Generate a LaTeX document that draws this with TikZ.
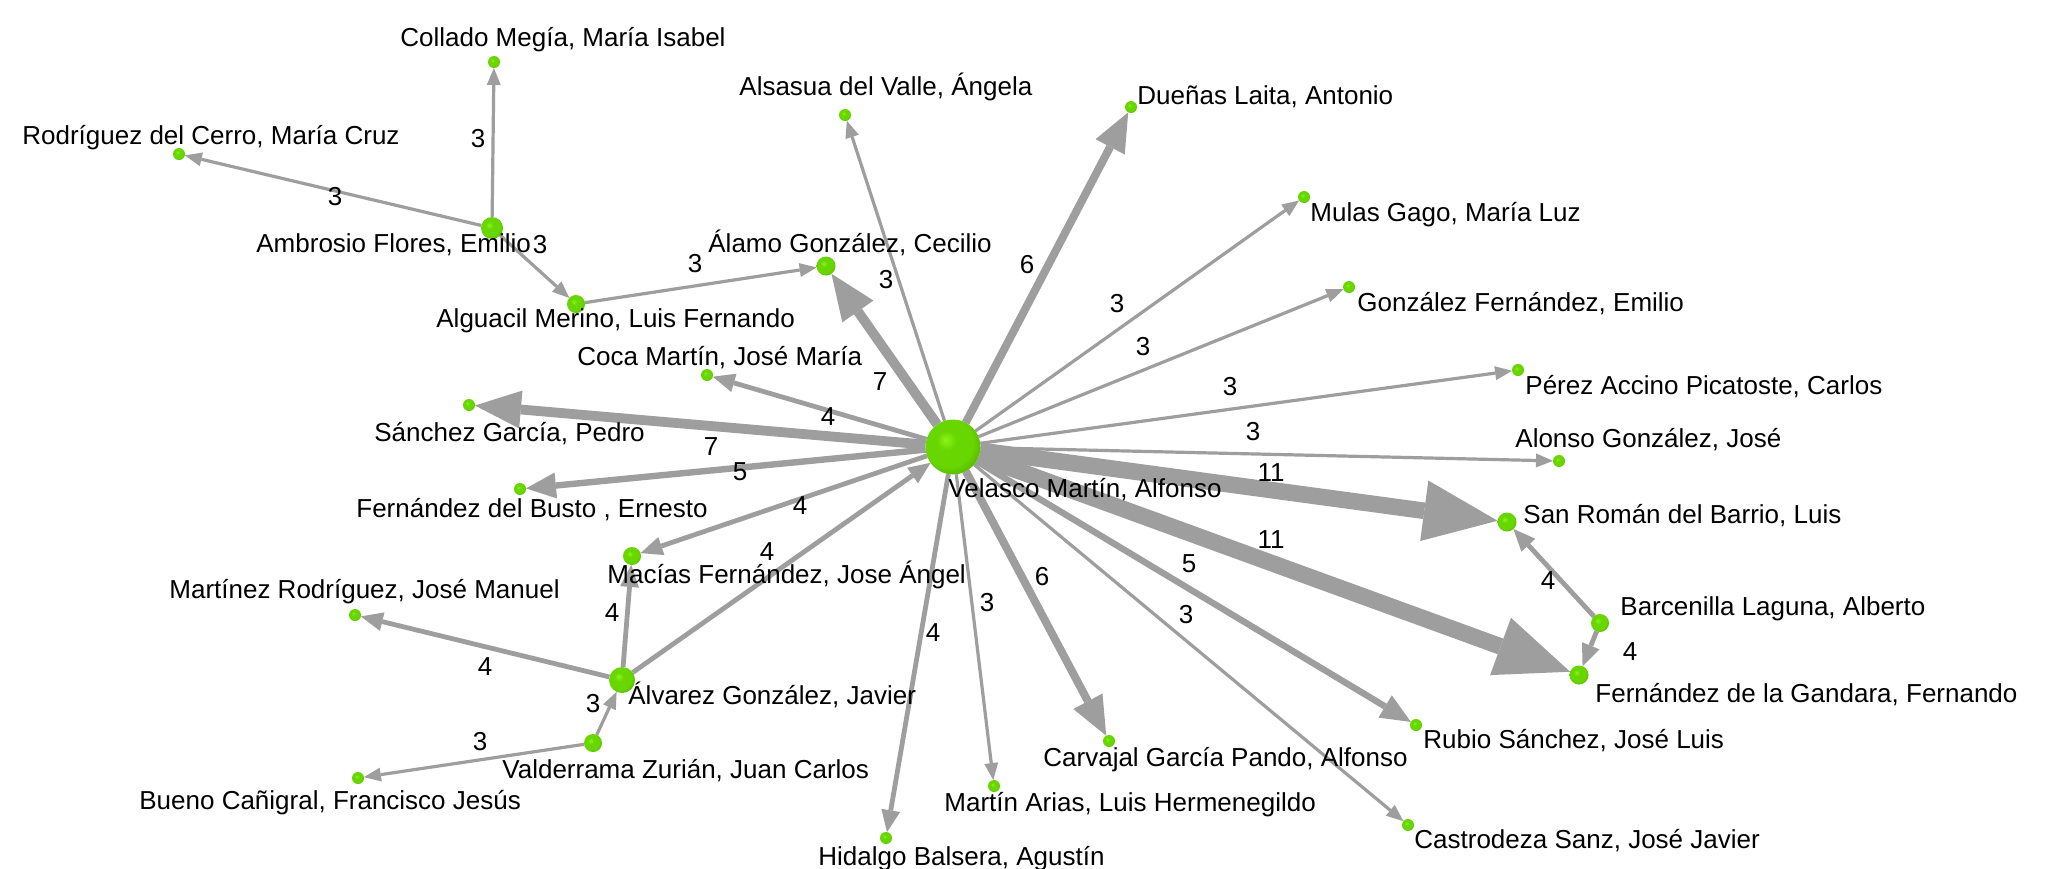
\documentclass[tikz,border=0pt]{standalone}
\usepackage{fontspec}
\setmainfont{Liberation Sans}
\usetikzlibrary{arrows.meta}
\pgfdeclarelayer{back}
\pgfdeclarelayer{bg}
\pgfsetlayers{back,bg,main}
\definecolor{edgegray}{RGB}{158,158,158}
\definecolor{gHi}{RGB}{138,246,24}
\definecolor{gMid}{RGB}{104,214,0}
\definecolor{gEdge}{RGB}{80,172,0}
\pgfdeclareradialshading{greenball}{\pgfpoint{-7bp}{7bp}}{color(0bp)=(gHi); color(9bp)=(gMid); color(22bp)=(gMid); color(33bp)=(gEdge); color(50bp)=(gEdge)}
\begin{document}
\begin{tikzpicture}[x=0.5pt,y=-0.5pt,
  vnode/.style={circle, inner sep=0pt, outer sep=0pt, shade, shading=greenball, minimum size=#1},
  lbl/.style={anchor=base west, inner sep=0pt, font=\fontsize{13}{15}\selectfont},
  wl/.style={inner sep=0pt, font=\fontsize{13}{15}\selectfont},
  ed/.style={draw=edgegray, line cap=butt},
  wt3/.style={ed, line width=1.6pt, -{Triangle[length=8.5pt,width=7pt,line width=0pt]}},
  wt4/.style={ed, line width=2.4pt, -{Triangle[length=11pt,width=9.5pt,line width=0pt]}},
  wt5/.style={ed, line width=3.2pt, -{Triangle[length=15pt,width=13pt,line width=0pt]}},
  wt6/.style={ed, line width=4pt, -{Triangle[length=19.5pt,width=16.5pt,line width=0pt]}},
  wt7/.style={ed, line width=4.9pt, -{Triangle[length=23pt,width=19pt,line width=0pt]}},
  wt11/.style={ed, line width=8.3pt, -{Triangle[length=37pt,width=30.5pt,line width=0pt]}}
]
\begin{pgfonlayer}{back}
\fill[white] (0,0) rectangle (2051,868);
\end{pgfonlayer}
\useasboundingbox (0,0) rectangle (2051,868);

% nodes
\node[vnode=27.5pt] (vel) at (953,447) {};
\node[vnode=11pt] (amb) at (492,228) {};
\node[vnode=9pt] (alg) at (576,304) {};
\node[vnode=9.5pt] (ala) at (826,266) {};
\node[vnode=6pt] (col) at (494,62) {};
\node[vnode=6pt] (rod) at (179,154) {};
\node[vnode=6pt] (als) at (845,115) {};
\node[vnode=6pt] (due) at (1131,107) {};
\node[vnode=6pt] (mul) at (1304,197) {};
\node[vnode=6pt] (gon) at (1349,287) {};
\node[vnode=6pt] (per) at (1518,370) {};
\node[vnode=6pt] (alo) at (1559,461) {};
\node[vnode=9.5pt] (san) at (1507,522) {};
\node[vnode=9pt] (bar) at (1600,623) {};
\node[vnode=9.5pt] (fdg) at (1579,675) {};
\node[vnode=6pt] (rub) at (1416,725) {};
\node[vnode=6pt] (cas) at (1408,825) {};
\node[vnode=6pt] (car) at (1109,741) {};
\node[vnode=6pt] (mar) at (994,786) {};
\node[vnode=6pt] (hid) at (886,838) {};
\node[vnode=9pt] (val) at (593,743) {};
\node[vnode=6pt] (bue) at (358,778) {};
\node[vnode=13pt] (alv) at (622,680) {};
\node[vnode=6pt] (mrt) at (355,615) {};
\node[vnode=9pt] (mac) at (632,556) {};
\node[vnode=6pt] (fdb) at (520,489) {};
\node[vnode=6pt] (sgp) at (469,405) {};
\node[vnode=6pt] (coc) at (707,375) {};

% edges
\begin{pgfonlayer}{bg}
\draw[wt3] (amb) -- (col);
\draw[wt3] (amb) -- (rod);
\draw[wt3] (amb) -- (alg);
\draw[wt3] (alg) -- (ala);
\draw[wt7] (vel) -- (ala);
\draw[wt3] (vel) -- (als);
\draw[wt6] (vel) -- (due);
\draw[wt3] (vel) -- (mul);
\draw[wt3] (vel) -- (gon);
\draw[wt3] (vel) -- (per);
\draw[wt3] (vel) -- (alo);
\draw[wt11] (vel) -- (san);
\draw[wt11] (vel) -- (fdg);
\draw[wt5] (vel) -- (rub);
\draw[wt3] (vel) -- (cas);
\draw[wt6] (vel) -- (car);
\draw[wt3] (vel) -- (mar);
\draw[wt4] (vel) -- (hid);
\draw[wt4] (vel) -- (mac);
\draw[wt5] (vel) -- (fdb);
\draw[wt7] (vel) -- (sgp);
\draw[wt4] (vel) -- (coc);
\draw[wt4] (alv) -- (vel);
\draw[wt4] (alv) -- (mac);
\draw[wt4] (alv) -- (mrt);
\draw[wt3] (val) -- (alv);
\draw[wt3] (val) -- (bue);
\draw[wt4] (bar) -- (san);
\draw[wt4] (bar) -- (fdg);
\end{pgfonlayer}

% edge weights
\node[wl] (w1) at (478,139) {3};
\node[wl] (w2) at (335,197) {3};
\node[wl] (w3) at (540,245) {3};
\node[wl] (w4) at (695,264) {3};
\node[wl] (w5) at (886,280) {3};
\node[wl] (w6) at (880,382) {7};
\node[wl] (w7) at (828,417) {4};
\node[wl] (w8) at (711,447) {7};
\node[wl] (w9) at (740,472) {5};
\node[wl] (w10) at (800,506) {4};
\node[wl] (w11) at (767,552) {4};
\node[wl] (w12) at (612,613) {4};
\node[wl] (w13) at (485,667) {4};
\node[wl] (w14) at (593,704) {3};
\node[wl] (w15) at (480,742) {3};
\node[wl] (w16) at (933,633) {4};
\node[wl] (w17) at (987,603) {3};
\node[wl] (w18) at (1042,577) {6};
\node[wl] (w19) at (1186,615) {3};
\node[wl] (w20) at (1189,564) {5};
\node[wl] (w21) at (1271,540) {11};
\node[wl] (w22) at (1271,473) {11};
\node[wl] (w23) at (1253,432) {3};
\node[wl] (w24) at (1230,387) {3};
\node[wl] (w25) at (1143,347) {3};
\node[wl] (w26) at (1117,304) {3};
\node[wl] (w27) at (1027,265) {6};
\node[wl] (w28) at (1548,581) {4};
\node[wl] (w29) at (1630,652) {4};

% names
\node[lbl] (tcol) at (400,46) {Collado Megía, María Isabel};
\node[lbl] (trod) at (22,144) {Rodríguez del Cerro, María Cruz};
\node[lbl] (tamb) at (256,252) {Ambrosio Flores, Emilio};
\node[lbl] (talg) at (436,327) {Alguacil Merino, Luis Fernando};
\node[lbl] (tala) at (708,252) {Álamo González, Cecilio};
\node[lbl] (tals) at (739,95) {Alsasua del Valle, Ángela};
\node[lbl] (tdue) at (1137,104) {Dueñas Laita, Antonio};
\node[lbl] (tmul) at (1310,221) {Mulas Gago, María Luz};
\node[lbl] (tgon) at (1357,311) {González Fernández, Emilio};
\node[lbl] (tper) at (1525,394) {Pérez Accino Picatoste, Carlos};
\node[lbl] (talo) at (1515,447) {Alonso González, José};
\node[lbl] (tsan) at (1523,523) {San Román del Barrio, Luis};
\node[lbl] (tbar) at (1620,615) {Barcenilla Laguna, Alberto};
\node[lbl] (tfdg) at (1595,702) {Fernández de la Gandara, Fernando};
\node[lbl] (trub) at (1423,748) {Rubio Sánchez, José Luis};
\node[lbl] (tcas) at (1414,848) {Castrodeza Sanz, José Javier};
\node[lbl] (tcar) at (1043,766) {Carvajal García Pando, Alfonso};
\node[lbl] (tmar) at (944,811) {Martín Arias, Luis Hermenegildo};
\node[lbl] (thid) at (818,865) {Hidalgo Balsera, Agustín};
\node[lbl] (tval) at (502,778) {Valderrama Zurián, Juan Carlos};
\node[lbl] (tbue) at (139,809) {Bueno Cañigral, Francisco Jesús};
\node[lbl] (talv) at (628,704) {Álvarez González, Javier};
\node[lbl] (tmrt) at (169,598) {Martínez Rodríguez, José Manuel};
\node[lbl] (tmac) at (607,583) {Macías Fernández, Jose Ángel};
\node[lbl] (tfdb) at (356,517) {Fernández del Busto , Ernesto};
\node[lbl] (tsgp) at (374,441) {Sánchez García, Pedro};
\node[lbl] (tcoc) at (577,365) {Coca Martín, José María};
\node[lbl] (tvel) at (948,497) {Velasco Martín, Alfonso};
\end{tikzpicture}
\end{document}
